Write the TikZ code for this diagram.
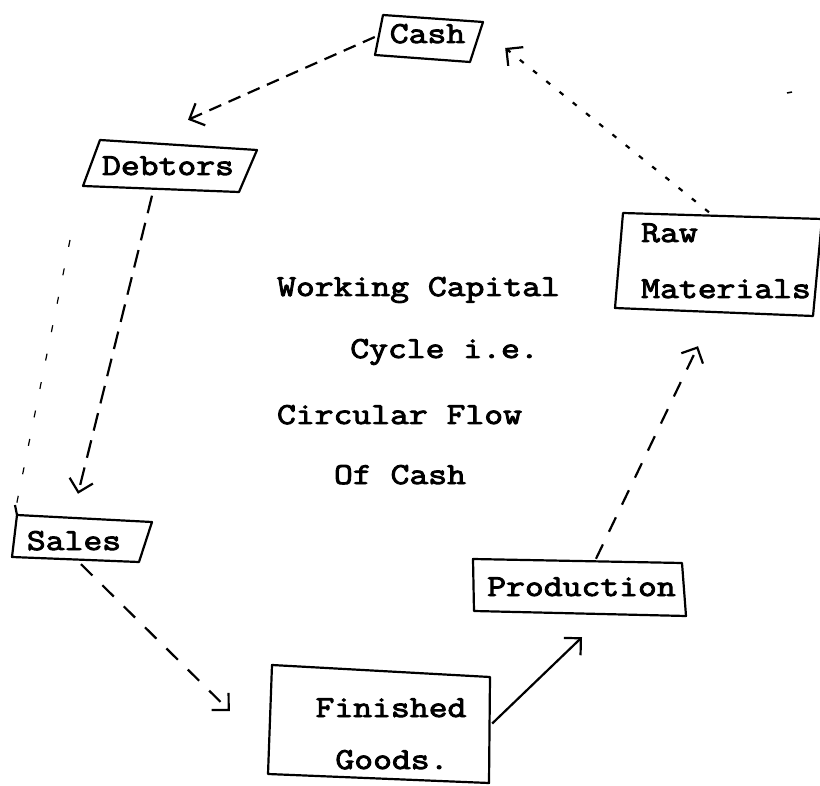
\documentclass[tikz,border=0pt]{standalone}
\usepackage{fontspec}
\newfontfamily\tw{Latin Modern Mono}[FakeStretch=1.2,FakeBold=3]
\usetikzlibrary{arrows.meta,calc}
\begin{document}
\begin{tikzpicture}[x=1pt,y=-1pt,
  lbl/.style={anchor=base,inner sep=0pt,font=\tw\fontsize{30.5}{36}\selectfont},
  lblw/.style={lbl,anchor=base west},
  box/.style={draw=none,inner sep=0pt,rectangle},
  frame/.style={line width=2.2pt,line join=round},
  flow/.style={line width=2.2pt,-{Straight Barb[length=12pt,width=24pt,line width=2.2pt]}},
  dashA/.style={dash pattern=on 13pt off 8pt},
  dashB/.style={dash pattern=on 5pt off 12pt},
  dashC/.style={dash pattern=on 18pt off 10pt},
  dashD/.style={dash pattern=on 16pt off 14pt}]
\useasboundingbox (0,0) rectangle (820,786);

% invisible box nodes
\node[box,minimum width=108pt,minimum height=48pt] (cash) at (429,39) {};
\node[box,minimum width=175pt,minimum height=53pt] (debt) at (170,166) {};
\node[box,minimum width=206pt,minimum height=104pt] (raw) at (718,264.5) {};
\node[box,minimum width=140pt,minimum height=50pt] (sales) at (82,537) {};
\node[box,minimum width=213pt,minimum height=57pt] (prod) at (579.5,587.5) {};
\node[box,minimum width=224pt,minimum height=116pt] (fin) at (380,721.5) {};

% frames
\draw[frame] (383,15) -- (483,22) -- (470,62) -- (375,55) -- cycle;
\draw[frame] (100,140) -- (257,150) -- (239,192) -- (83,186) -- cycle;
\draw[frame] (623,213) -- (822,219) -- (813,316) -- (615,308) -- cycle;
\draw[frame] (17,515) -- (152,522) -- (139,562) -- (12,557) -- cycle;
\draw[frame] (15,505) -- (17,515);
\draw[frame] (473,559) -- (682,563) -- (686,616) -- (474,611) -- cycle;
\draw[frame] (272,665) -- (490,677) -- (489,783) -- (268,774) -- cycle;

% labels
\node[lbl] (cashT) at (427.5,43) {Cash};
\node[lbl] (debtT) at (168,175) {Debtors};
\node[lblw] (rawT1) at (641,242) {Raw};
\node[lblw] (rawT2) at (641,298) {Materials};
\node[lbl] (salesT) at (74,550) {Sales};
\node[lbl] (prodT) at (581.5,596) {Production};
\node[lbl] (finT1) at (391,717) {Finished};
\node[lbl] (finT2) at (392,769) {Goods.};

\node[lbl] (c1) at (418.5,296) {Working Capital};
\node[lbl] (c2) at (444.5,358) {Cycle i.e.};
\node[lbl] (c3) at (399.5,424) {Circular Flow};
\node[lbl] (c4) at (400,484) {Of Cash};

% connectors
\draw[flow,dashA] ($(cash.west)+(0,-2)$) -- ($(debt.north)+(18,-19.5)$);
\draw[flow,dashB] ($(raw.north)+(-9,0)$) -- ($(cash.east)+(22,9)$);
\draw[flow,dashC] ($(debt.south)+(-18,3)$) -- ($(sales.north)+(-4,-18)$);
\draw[flow,dashD] ($(sales.south)+(-1,2)$) -- ($(fin.west)+(-38,-10.5)$);
\draw[flow] ($(fin.east)+(0,2)$) -- ($(prod.south)+(2.5,21)$);
\draw[flow,dashD] ($(prod.north)+(16.5,0)$) -- ($(raw.south)+(-20,29.5)$);

% stray scan marks
\draw[line width=1.2pt,dash pattern=on 7pt off 22pt] (70,240) -- (15,512);
\draw[line width=1.5pt] (787,93) -- (792,92);
\end{tikzpicture}
\end{document}
